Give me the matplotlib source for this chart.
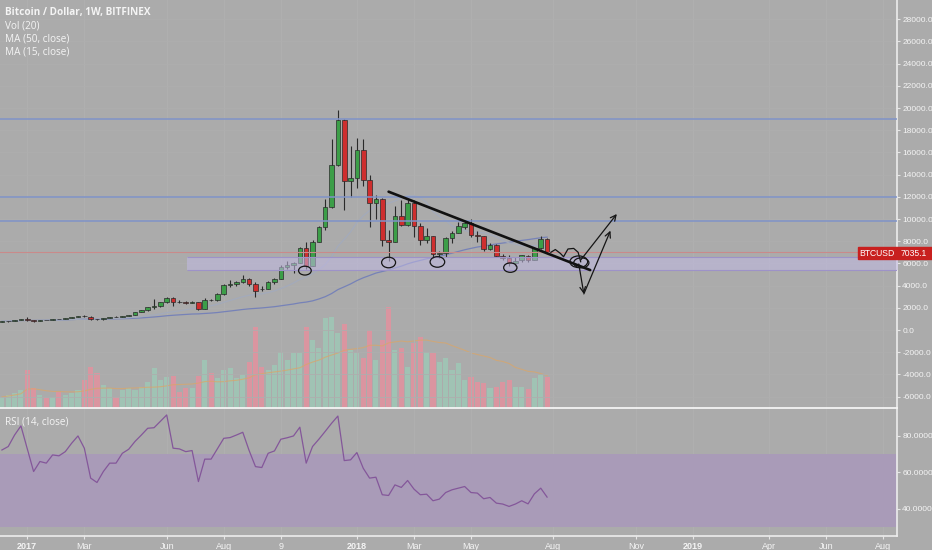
import numpy as np
import pandas as pd
import matplotlib
matplotlib.use('Agg')
import matplotlib.pyplot as plt
from matplotlib.patches import Rectangle, Ellipse

# weekly BTC/USD candles, Dec 2016 -> end of Jul 2018 (one entry per week)
OPEN = [760, 775, 790, 890, 960, 905, 820, 920, 915, 1020,
        1000, 1050, 1190, 1270, 1180, 960, 950, 1080, 1190, 1180,
        1250, 1340, 1600, 1780, 2050, 2200, 2480, 2850, 2500, 2480,
        2430, 2500, 1920, 2730, 2700, 3200, 4050, 4100, 4300, 4600,
        4150, 3720, 3680, 4300, 4580, 5700, 5900, 6050, 7400, 5800,
        7950, 9300, 11100, 14900, 18900, 13400, 13700, 16200, 13500, 11400,
        11800, 8100, 7950, 10300, 9500, 11450, 9350, 8150, 8450, 6850,
        6950, 8300, 8770, 9300, 9600, 8600, 8450, 7300, 7650, 6700,
        6450, 6050, 6300, 6700, 6350, 7400, 8200]
HIGH = [790, 800, 900, 980, 1150, 920, 930, 935, 1030, 1030,
        1060, 1200, 1280, 1320, 1250, 1000, 1090, 1200, 1220, 1260,
        1350, 1620, 1800, 2100, 2800, 2500, 2980, 2990, 2700, 2600,
        2600, 2550, 2850, 2800, 3300, 4100, 4500, 4400, 4950, 4700,
        4350, 3950, 4400, 4650, 5850, 6180, 6150, 7500, 7900, 8100,
        9400, 11800, 17200, 19800, 19000, 16600, 17300, 17200, 14000, 12200,
        11900, 9000, 11200, 11700, 11700, 11700, 9600, 9200, 8500, 7100,
        8400, 8950, 9700, 9950, 10000, 8900, 8500, 7800, 7750, 6850,
        6800, 6550, 6800, 6800, 7500, 8500, 8250]
LOW = [740, 760, 785, 880, 850, 750, 800, 880, 900, 960,
       980, 1040, 1170, 1150, 900, 890, 930, 1070, 1150, 1170,
       1240, 1330, 1580, 1700, 1900, 2100, 2450, 2150, 2400, 2350,
       2400, 1840, 1900, 2600, 2650, 3150, 3900, 3950, 4250, 4000,
       2980, 3550, 3650, 4150, 4550, 5500, 5100, 6000, 5500, 5800,
       7900, 9000, 11000, 14800, 10800, 12000, 12800, 13000, 9300, 10000,
       7600, 6200, 7900, 9400, 9400, 8400, 7700, 7800, 6500, 6450,
       6600, 7800, 8700, 9100, 8350, 7950, 7150, 7200, 6600, 6350,
       5750, 5800, 6150, 6100, 6300, 7300, 6950]
CLOSE = [775, 790, 890, 960, 905, 820, 920, 915, 1020, 1000,
         1050, 1190, 1270, 1240, 960, 950, 1080, 1190, 1180, 1250,
         1340, 1600, 1780, 2050, 2200, 2480, 2850, 2500, 2480, 2430,
         2500, 1920, 2700, 2700, 3200, 4050, 4100, 4300, 4600, 4150,
         3550, 3680, 4300, 4580, 5700, 5900, 6050, 7400, 5800, 7950,
         9300, 11100, 14900, 18900, 13400, 13700, 16200, 13500, 11400, 11800,
         8100, 7950, 10300, 9500, 11450, 9350, 8150, 8450, 6850, 6950,
         8300, 8750, 9370, 9600, 8600, 8450, 7300, 7650, 6700, 6500,
         6050, 6250, 6750, 6350, 7400, 8200, 7035.1]
# volume (relative units)
VOLUME = [11, 13, 15, 18, 38, 20, 13, 10, 11, 16,
          13, 15, 18, 28, 41, 35, 23, 20, 11, 18,
          20, 18, 21, 26, 40, 28, 31, 32, 16, 20,
          20, 32, 48, 35, 30, 38, 40, 30, 33, 46,
          81, 41, 38, 43, 56, 48, 55, 55, 81, 68,
          60, 90, 91, 75, 84, 58, 55, 50, 78, 48,
          68, 101, 58, 60, 41, 65, 71, 56, 55, 46,
          50, 38, 45, 28, 31, 26, 25, 20, 21, 26,
          28, 21, 21, 19, 30, 33, 31]
RSI = [72.3, 74.2, 80.5, 85.5, 73, 60.5, 66, 65.1, 69.6, 69.1,
       71.4, 76, 80, 73.3, 56.9, 54.5, 60.5, 65.1, 65.1, 70.5,
       72.7, 77, 80.5, 84.2, 84.5, 88, 91.5, 73.3, 72.9, 71.4,
       72, 55, 67.3, 67.3, 73, 78.7, 79.1, 80.5, 82, 72,
       63.2, 62.7, 70.5, 71.8, 78.2, 79, 80, 84.8, 65.1, 74.2,
       78.2, 82.5, 86.9, 90.9, 66.5, 66.9, 70.9, 62.3, 56.9, 57.4,
       47.8, 47.4, 53.2, 51.8, 55.6, 50.9, 47.8, 48.1, 44.5, 45.4,
       49, 50.5, 51.4, 52.3, 49, 48.7, 45.6, 46.3, 43.2, 42.7,
       41.4, 42.7, 44.5, 42.8, 48.3, 51.4, 46.5]

# week index of the first bar of each labelled period
X_TICK_IDX = [4, 13, 26, 35, 44, 56, 65, 74, 87, 100, 109, 121, 130, 139]
X_TICK_LABELS = ['2017', 'Mar', 'Jun', 'Aug', '9', '2018', 'Mar', 'May',
                 'Aug', 'Nov', '2019', 'Apr', 'Jun', 'Aug']
BOLD_LABELS = ['2017', '2018', '2019']

# user drawings (week index, price)
H_LEVELS = [19000, 12000, 9800]
BAND = (5400, 6580)
BAND_START = 29.2
TREND = [(61.0, 12460), (92.8, 5400)]
CIRCLES = [(47.8, 5350, 2.0, 800), (61.0, 6080, 2.2, 950),
           (68.7, 6130, 2.3, 950), (80.2, 5620, 2.1, 850),
           (91.0, 6150, 2.8, 1050), (91.4, 6050, 2.4, 900)]
SQUIGGLE_X = [86.6, 87.3, 88.1, 88.6, 89.3, 90.2, 90.9, 91.3]
SQUIGGLE_Y = [7000, 7250, 6900, 6600, 7300, 7350, 7000, 6150]
ARROWS = [((91.3, 6300), (97.0, 10450)),
          ((91.0, 5950), (91.8, 3250)),
          ((91.8, 3250), (96.0, 8950))]
LAST_PRICE = 7035.1

BG = '#ABABAB'
TXT = '#F4F4F4'
UP = '#3C9E48'
DOWN = '#CE2E2E'
VOL_UP = '#A0C3B4'
VOL_DOWN = '#DA95A0'
W, H = 932, 550


def rect(x0, y0, x1, y1):
    """pixel box (top-left origin) -> figure fraction [l, b, w, h]"""
    return [x0 / W, 1 - y1 / H, (x1 - x0) / W, (y1 - y0) / H]


plt.rcParams['font.family'] = ['Liberation Sans', 'DejaVu Sans']
plt.rcParams['font.size'] = 6

fig = plt.figure(figsize=(W / 100, H / 100), dpi=100, facecolor=BG)
ax = fig.add_axes(rect(0, 0, 897, 408))
axv = ax.twinx()
ax.set_zorder(axv.get_zorder() + 1)
ax.patch.set_visible(False)
axr = fig.add_axes(rect(0, 408, 897, 536), sharex=ax)
axr.set_facecolor(BG)
fig.patch.set_facecolor(BG)

idx = np.arange(len(CLOSE))
o = np.array(OPEN, dtype=float)
c = np.array(CLOSE, dtype=float)
up = c >= o

# volume + its 20 MA, on its own hidden scale
axv.bar(idx, VOLUME, width=0.8, color=[VOL_UP if u else VOL_DOWN for u in up], zorder=1)
vol_ma = pd.Series(VOLUME, dtype=float).rolling(20, min_periods=1).mean()
axv.plot(idx, vol_ma, color='#D9A66A', lw=0.8, alpha=0.75)
axv.set_ylim(0, 408)
axv.axis('off')

# faint grid
for t in X_TICK_IDX:
    ax.axvline(t, color='#B0B0B0', lw=0.7, zorder=0)
    axr.axvline(t, color='#B0B0B0', lw=0.7, zorder=0)
for p in range(-6000, 28001, 2000):
    ax.axhline(p, color='#AEAEAE', lw=0.6, zorder=0)

# moving averages
close_s = pd.Series(c)
ax.plot(idx, close_s.rolling(50, min_periods=1).mean(), color='#7682B8', lw=0.9, zorder=2)
ax.plot(idx, close_s.rolling(15, min_periods=1).mean(), color='#A3AABB', lw=0.9, zorder=2)

# candles
ax.vlines(idx, LOW, HIGH, color='#2A2A2A', lw=0.8, zorder=3)
body_lo = np.minimum(o, c)
body_h = np.abs(c - o)
ax.bar(idx, body_h, bottom=body_lo, width=0.72,
       color=[UP if u else DOWN for u in up], edgecolor='#2A2A2A', linewidth=0.5, zorder=4)

# horizontal levels and support band
for lv in H_LEVELS:
    ax.axhline(lv, color='#7F93C8', lw=1.1, zorder=5)
ax.axhline(LAST_PRICE, color='#C98A8A', lw=0.8, zorder=5)
ax.fill_between([BAND_START, 145], BAND[0], BAND[1], color='#C2BAE4', alpha=0.55,
                lw=0, zorder=6)
ax.hlines(BAND, BAND_START, 145, color='#9D92C8', lw=0.8, zorder=6)

# hand drawn bits
ax.plot([p[0] for p in TREND], [p[1] for p in TREND], color='#111111', lw=1.9,
        solid_capstyle='round', zorder=7)
for cx, cy, ew, eh in CIRCLES:
    ax.add_patch(Ellipse((cx, cy), ew, eh, fill=False, ec='#151515', lw=0.9, zorder=7))
ax.plot(SQUIGGLE_X, SQUIGGLE_Y, color='#151515', lw=0.9, zorder=7)
for start, end in ARROWS:
    ax.annotate('', xy=end, xytext=start, zorder=7,
                arrowprops=dict(arrowstyle='->', color='#151515', lw=0.9, mutation_scale=10,
                                shrinkA=0, shrinkB=0))

ax.set_xlim(-0.3, 141.2)
ax.set_ylim(-7027, 29730)
ax.yaxis.tick_right()
ax.set_yticks(range(-6000, 28001, 2000))
ax.set_yticklabels([f'{v:.1f}' for v in range(-6000, 28001, 2000)])
ax.tick_params(axis='y', colors='#E6E6E6', labelcolor=TXT, length=2.5, width=0.8,
               pad=1.2, labelsize=6.0)
ax.tick_params(axis='x', bottom=False, labelbottom=False)
for s in ['top', 'left']:
    ax.spines[s].set_visible(False)
ax.spines['right'].set_color('#EDEDED')
ax.spines['right'].set_linewidth(1.2)
ax.spines['bottom'].set_color('#F4F4F4')
ax.spines['bottom'].set_linewidth(1.3)

# RSI pane
axr.axhspan(30, 70, color='#A99BB8', lw=0, zorder=0)
axr.plot(idx, RSI, color='#84579A', lw=0.9, zorder=3)
axr.set_ylim(25.2, 95.3)
axr.yaxis.tick_right()
axr.set_yticks([40, 60, 80])
axr.set_yticklabels(['40.0000', '60.0000', '80.0000'])
axr.tick_params(axis='y', colors='#E6E6E6', labelcolor=TXT, length=2.5, width=0.8,
                pad=1.2, labelsize=6.0)
axr.set_xticks(X_TICK_IDX)
axr.set_xticklabels(X_TICK_LABELS)
axr.tick_params(axis='x', colors='#E6E6E6', labelcolor=TXT, length=2.5, width=0.8,
                pad=1.5, labelsize=6.5)
for lab in axr.get_xticklabels():
    if lab.get_text() in BOLD_LABELS:
        lab.set_fontweight('bold')
for s in ['top', 'left']:
    axr.spines[s].set_visible(False)
for s in ['right', 'bottom']:
    axr.spines[s].set_color('#EDEDED')
    axr.spines[s].set_linewidth(1.2)

# legend texts
leg_font = ['Open Sans', 'DejaVu Sans']
fig.text(5 / W, 1 - 13 / H, 'Bitcoin / Dollar, 1W, BITFINEX', color=TXT, fontsize=7.2,
         fontweight='bold', family=leg_font, va='center')
for k, txt in enumerate(['Vol (20)', 'MA (50, close)', 'MA (15, close)']):
    fig.text(5 / W, 1 - (26 + 13 * k) / H, txt, color=TXT, fontsize=7.2,
             family=leg_font, va='center')
fig.text(5 / W, 1 - 422 / H, 'RSI (14, close)', color=TXT, fontsize=7.2,
         family=leg_font, va='center')

# last price tag
fig.add_artist(Rectangle((858 / W, 1 - 259 / H), 74 / W, 12 / H, transform=fig.transFigure,
                         color='#C8201F', zorder=10))
fig.text(877 / W, 1 - 253 / H, 'BTCUSD', color='white', fontsize=6.2, ha='center',
         va='center', zorder=11)
fig.text(914 / W, 1 - 253 / H, f'{LAST_PRICE:.1f}', color='white', fontsize=6.2,
         ha='center', va='center', zorder=11)

fig.savefig('out.png', dpi=100, facecolor=BG)
